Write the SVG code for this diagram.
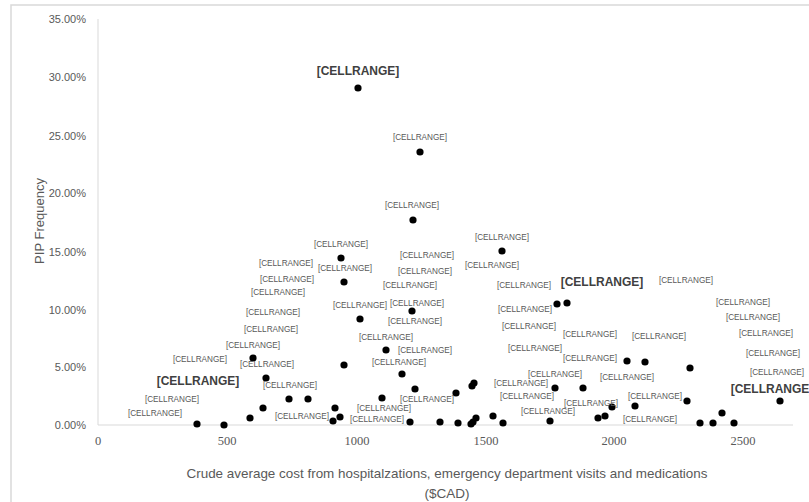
<svg xmlns="http://www.w3.org/2000/svg" width="809" height="502" viewBox="0 0 809 502">
<style>
.bg{fill:#ffffff;stroke:#d9d9d9;stroke-width:1.5}
.ax{stroke:#d9d9d9;stroke-width:1;fill:none}
.yt{font-family:"Liberation Sans",Arial,sans-serif;font-size:11px;fill:#595959;text-anchor:end}
.xt{font-family:"Liberation Serif","Times New Roman",serif;font-size:12.5px;fill:#595959;text-anchor:middle}
.ttl{font-family:"Liberation Sans",Arial,sans-serif;font-size:13.5px;fill:#595959;text-anchor:middle}
.lb{font-family:"Liberation Sans",Arial,sans-serif;font-size:8.2px;fill:#595959;text-anchor:middle}
.bl{font-family:"Liberation Sans",Arial,sans-serif;font-size:12px;font-weight:bold;fill:#404040;text-anchor:middle}
.pt{fill:#000000}
</style>
<rect class="bg" x="11" y="5" width="810" height="510"/>
<g id="axes">
<line class="ax" x1="98" y1="19" x2="98" y2="425"/>
<line class="ax" x1="98" y1="425" x2="793" y2="425"/>
<text class="yt" x="86" y="23">35.00%</text>
<text class="yt" x="86" y="81">30.00%</text>
<text class="yt" x="86" y="140">25.00%</text>
<text class="yt" x="86" y="197">20.00%</text>
<text class="yt" x="86" y="256">15.00%</text>
<text class="yt" x="86" y="314">10.00%</text>
<text class="yt" x="86" y="371">5.00%</text>
<text class="yt" x="86" y="429">0.00%</text>
<text class="xt" x="98" y="445">0</text>
<text class="xt" x="227" y="445">500</text>
<text class="xt" x="357" y="445">1000</text>
<text class="xt" x="486" y="445">1500</text>
<text class="xt" x="614" y="445">2000</text>
<text class="xt" x="743" y="445">2500</text>
<text class="ttl" x="447" y="478" textLength="521" lengthAdjust="spacingAndGlyphs">Crude average cost from hospitalzations, emergency department  visits and medications</text>
<text class="ttl" x="447" y="498">($CAD)</text>
<text class="ttl" transform="translate(44,221) rotate(-90)" style="font-size:13px">PIP Frequency</text>
</g>
<g id="points">
<circle class="pt" cx="358" cy="88" r="3.6"/>
<circle class="pt" cx="420" cy="152" r="3.6"/>
<circle class="pt" cx="413" cy="220" r="3.6"/>
<circle class="pt" cx="502" cy="251" r="3.6"/>
<circle class="pt" cx="341" cy="258" r="3.6"/>
<circle class="pt" cx="344" cy="282" r="3.6"/>
<circle class="pt" cx="412" cy="311" r="3.6"/>
<circle class="pt" cx="360" cy="319" r="3.6"/>
<circle class="pt" cx="557" cy="304" r="3.6"/>
<circle class="pt" cx="567" cy="303" r="3.6"/>
<circle class="pt" cx="386" cy="350" r="3.6"/>
<circle class="pt" cx="627" cy="361" r="3.6"/>
<circle class="pt" cx="645" cy="362" r="3.6"/>
<circle class="pt" cx="690" cy="368" r="3.6"/>
<circle class="pt" cx="253" cy="358" r="3.6"/>
<circle class="pt" cx="344" cy="365" r="3.6"/>
<circle class="pt" cx="402" cy="374" r="3.6"/>
<circle class="pt" cx="266" cy="378" r="3.6"/>
<circle class="pt" cx="474" cy="383" r="3.6"/>
<circle class="pt" cx="472" cy="386" r="3.6"/>
<circle class="pt" cx="415" cy="389" r="3.6"/>
<circle class="pt" cx="555" cy="388" r="3.6"/>
<circle class="pt" cx="583" cy="388" r="3.6"/>
<circle class="pt" cx="456" cy="393" r="3.6"/>
<circle class="pt" cx="289" cy="399" r="3.6"/>
<circle class="pt" cx="308" cy="399" r="3.6"/>
<circle class="pt" cx="382" cy="398" r="3.6"/>
<circle class="pt" cx="612" cy="407" r="3.6"/>
<circle class="pt" cx="635" cy="406" r="3.6"/>
<circle class="pt" cx="687" cy="401" r="3.6"/>
<circle class="pt" cx="780" cy="401" r="3.6"/>
<circle class="pt" cx="263" cy="408" r="3.6"/>
<circle class="pt" cx="335" cy="408" r="3.6"/>
<circle class="pt" cx="250" cy="418" r="3.6"/>
<circle class="pt" cx="340" cy="417" r="3.6"/>
<circle class="pt" cx="333" cy="421" r="3.6"/>
<circle class="pt" cx="197" cy="424" r="3.6"/>
<circle class="pt" cx="224" cy="425" r="3.6"/>
<circle class="pt" cx="410" cy="422" r="3.6"/>
<circle class="pt" cx="440" cy="422" r="3.6"/>
<circle class="pt" cx="458" cy="423" r="3.6"/>
<circle class="pt" cx="471" cy="424" r="3.6"/>
<circle class="pt" cx="473" cy="422" r="3.6"/>
<circle class="pt" cx="476" cy="418" r="3.6"/>
<circle class="pt" cx="493" cy="416" r="3.6"/>
<circle class="pt" cx="503" cy="423" r="3.6"/>
<circle class="pt" cx="550" cy="421" r="3.6"/>
<circle class="pt" cx="598" cy="418" r="3.6"/>
<circle class="pt" cx="605" cy="416" r="3.6"/>
<circle class="pt" cx="700" cy="423" r="3.6"/>
<circle class="pt" cx="713" cy="423" r="3.6"/>
<circle class="pt" cx="722" cy="413" r="3.6"/>
<circle class="pt" cx="734" cy="423" r="3.6"/>
</g>
<g id="labels">
<text class="bl" x="358" y="75">[CELLRANGE]</text>
<text class="bl" x="602" y="286">[CELLRANGE]</text>
<text class="bl" x="198" y="385">[CELLRANGE]</text>
<text class="bl" x="772" y="393">[CELLRANGE]</text>
<text class="lb" x="420" y="140">[CELLRANGE]</text>
<text class="lb" x="412" y="208">[CELLRANGE]</text>
<text class="lb" x="502" y="240">[CELLRANGE]</text>
<text class="lb" x="341" y="247">[CELLRANGE]</text>
<text class="lb" x="286" y="266">[CELLRANGE]</text>
<text class="lb" x="345" y="271">[CELLRANGE]</text>
<text class="lb" x="427" y="258">[CELLRANGE]</text>
<text class="lb" x="425" y="274">[CELLRANGE]</text>
<text class="lb" x="492" y="268">[CELLRANGE]</text>
<text class="lb" x="410" y="288">[CELLRANGE]</text>
<text class="lb" x="287" y="282">[CELLRANGE]</text>
<text class="lb" x="278" y="295">[CELLRANGE]</text>
<text class="lb" x="524" y="288">[CELLRANGE]</text>
<text class="lb" x="686" y="283">[CELLRANGE]</text>
<text class="lb" x="273" y="315">[CELLRANGE]</text>
<text class="lb" x="271" y="332">[CELLRANGE]</text>
<text class="lb" x="360" y="308">[CELLRANGE]</text>
<text class="lb" x="417" y="306">[CELLRANGE]</text>
<text class="lb" x="415" y="324">[CELLRANGE]</text>
<text class="lb" x="525" y="312">[CELLRANGE]</text>
<text class="lb" x="743" y="305">[CELLRANGE]</text>
<text class="lb" x="753" y="320">[CELLRANGE]</text>
<text class="lb" x="529" y="329">[CELLRANGE]</text>
<text class="lb" x="590" y="337">[CELLRANGE]</text>
<text class="lb" x="659" y="339">[CELLRANGE]</text>
<text class="lb" x="766" y="336">[CELLRANGE]</text>
<text class="lb" x="386" y="340">[CELLRANGE]</text>
<text class="lb" x="253" y="348">[CELLRANGE]</text>
<text class="lb" x="425" y="353">[CELLRANGE]</text>
<text class="lb" x="535" y="351">[CELLRANGE]</text>
<text class="lb" x="590" y="361">[CELLRANGE]</text>
<text class="lb" x="773" y="356">[CELLRANGE]</text>
<text class="lb" x="200" y="362">[CELLRANGE]</text>
<text class="lb" x="267" y="367">[CELLRANGE]</text>
<text class="lb" x="399" y="365">[CELLRANGE]</text>
<text class="lb" x="555" y="377">[CELLRANGE]</text>
<text class="lb" x="627" y="380">[CELLRANGE]</text>
<text class="lb" x="777" y="375">[CELLRANGE]</text>
<text class="lb" x="290" y="388">[CELLRANGE]</text>
<text class="lb" x="521" y="386">[CELLRANGE]</text>
<text class="lb" x="427" y="402">[CELLRANGE]</text>
<text class="lb" x="527" y="399">[CELLRANGE]</text>
<text class="lb" x="655" y="399">[CELLRANGE]</text>
<text class="lb" x="172" y="402">[CELLRANGE]</text>
<text class="lb" x="384" y="411">[CELLRANGE]</text>
<text class="lb" x="591" y="406">[CELLRANGE]</text>
<text class="lb" x="155" y="416">[CELLRANGE]</text>
<text class="lb" x="302" y="419">[CELLRANGE]</text>
<text class="lb" x="377" y="422">[CELLRANGE]</text>
<text class="lb" x="548" y="414">[CELLRANGE]</text>
<text class="lb" x="650" y="422">[CELLRANGE]</text>
</g>
</svg>
